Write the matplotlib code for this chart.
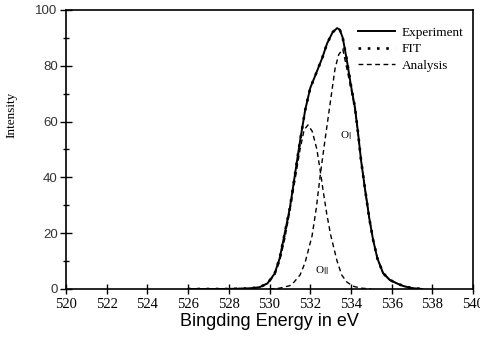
import matplotlib
matplotlib.use("Agg")
import matplotlib.pyplot as plt
from matplotlib.ticker import MultipleLocator

# Binding energy grids (eV) and intensities
energy_exp = [526.0, 528.0, 529.0, 529.5, 529.9, 530.25, 530.5, 530.75, 531.0, 531.25,
              531.5, 531.75, 532.0, 532.33, 532.6, 532.83, 533.1, 533.32, 533.45, 533.6,
              533.8, 534.0, 534.2, 534.35, 534.5, 534.7, 534.9, 535.09, 535.3, 535.58,
              535.9, 536.26, 536.6, 537.0, 537.5]
experiment = [0.0, 0.0, 0.2, 0.6, 2.0, 5.5, 11.0, 20.0, 29.0, 41.0,
              53.0, 64.0, 72.0, 78.0, 83.0, 88.0, 92.0, 93.5, 93.0, 90.0,
              82.0, 73.0, 65.0, 56.0, 46.0, 35.5, 25.5, 17.6, 11.0, 5.7,
              3.3, 2.0, 1.0, 0.3, 0.0]
fit = [0.0, 0.0, 0.2, 0.6, 2.0, 5.5, 11.0, 20.0, 29.0, 41.0,
       53.0, 64.0, 72.0, 78.0, 83.0, 88.0, 92.0, 93.5, 93.0, 90.0,
       82.0, 73.0, 65.0, 56.0, 46.0, 35.5, 25.5, 17.6, 11.0, 5.7,
       3.3, 2.0, 1.0, 0.3, 0.0]

energy_o1 = [526.0, 529.0, 529.5, 529.9, 530.25, 530.5, 530.75, 531.0, 531.25, 531.5,
             531.7, 531.89, 532.1, 532.33, 532.5, 532.63, 532.8, 533.0, 533.32, 533.55,
             533.8, 534.1, 534.5, 535.0]
o1 = [0.0, 0.2, 0.6, 2.0, 5.0, 10.0, 18.0, 28.0, 39.0, 50.0,
      57.0, 58.8, 56.5, 50.0, 42.0, 35.5, 27.5, 19.5, 10.0, 5.0,
      2.5, 1.0, 0.3, 0.0]

energy_o2 = [530.0, 530.5, 531.0, 531.15, 531.5, 531.75, 532.09, 532.3, 532.48, 532.7,
             532.97, 533.22, 533.4, 533.6, 533.8, 534.0, 534.2, 534.35, 534.5, 534.7,
             534.9, 535.09, 535.3, 535.58, 535.9, 536.26, 536.6, 537.0, 537.5]
o2 = [0.0, 0.3, 1.2, 2.0, 5.0, 9.5, 19.0, 29.0, 40.0, 52.0,
      66.0, 79.0, 84.0, 86.0, 79.0, 72.0, 64.5, 55.8, 46.0, 35.5,
      25.5, 17.6, 11.0, 5.7, 3.3, 2.0, 1.0, 0.3, 0.0]

series_labels = ["Experiment", "FIT", "Analysis"]
peak_labels = ["O$_{\\rm I}$", "O$_{\\rm II}$"]

serif = ["Liberation Serif", "DejaVu Serif"]
sans = ["Liberation Sans", "DejaVu Sans"]

fig = plt.figure(figsize=(4.81, 3.42), dpi=100)
ax = fig.add_axes([0.1372, 0.155, 0.8462, 0.8158])

ax.plot(energy_exp, experiment, color="black", lw=1.4, ls="-", label=series_labels[0])
ax.plot(energy_exp, fit, color="black", lw=1.9, ls=(0, (1, 2.5)), label=series_labels[1])
ax.plot(energy_o1, o1, color="black", lw=1.0, ls=(0, (3.5, 2.5)), label=series_labels[2])
ax.plot(energy_o2, o2, color="black", lw=1.0, ls=(0, (3.5, 2.5)))

ax.text(533.45, 55, peak_labels[0], fontsize=8, family=serif, va="center")
ax.text(532.25, 6.5, peak_labels[1], fontsize=8, family=serif, va="center")

ax.set_xlim(520, 540)
ax.set_ylim(0, 100)
ax.xaxis.set_major_locator(MultipleLocator(2))
ax.yaxis.set_major_locator(MultipleLocator(20))
ax.yaxis.set_minor_locator(MultipleLocator(10))
ax.tick_params(axis="x", direction="inout", length=7, width=1, labelsize=10.5, pad=3)
ax.tick_params(axis="y", which="major", direction="inout", length=8, width=1, labelsize=9.5, pad=2)
ax.tick_params(axis="y", which="minor", direction="inout", length=5, width=1)
for lab in ax.get_xticklabels():
    lab.set_family(serif)
for lab in ax.get_yticklabels():
    lab.set_family(sans)
    lab.set_color("#333333")
for s in ax.spines.values():
    s.set_linewidth(1.2)

ax.set_xlabel("Bingding Energy in eV", fontsize=13, family=sans, labelpad=1.5)
ax.set_ylabel("Intensity", fontsize=9.5, family=serif)
ax.yaxis.set_label_coords(-0.118, 0.624)

leg = ax.legend(loc="upper left", frameon=False, prop={"family": serif, "size": 9.5},
                handlelength=2.8, handletextpad=0.5, labelspacing=0.32,
                borderpad=0, borderaxespad=0,
                bbox_to_anchor=(0.7174, 0.94))

fig.savefig("out.png", dpi=100)
